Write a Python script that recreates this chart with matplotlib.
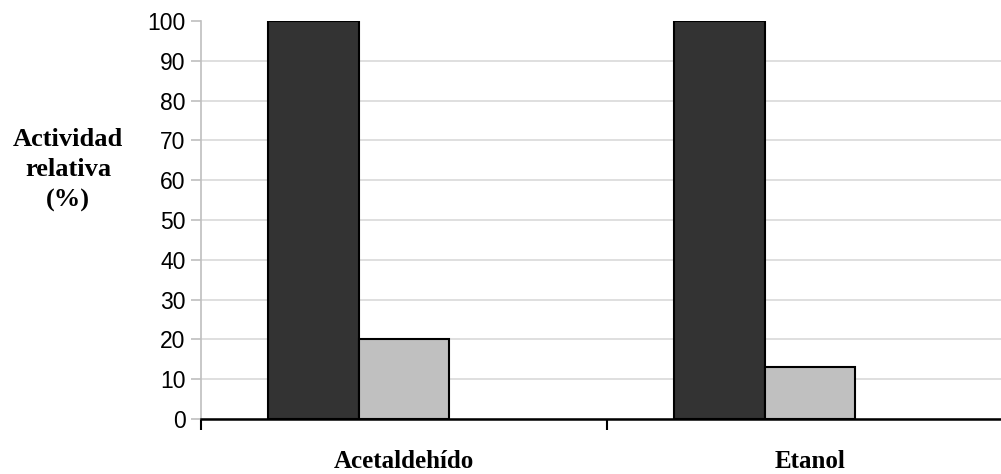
import numpy as np
import matplotlib
matplotlib.use("Agg")
import matplotlib.pyplot as plt

categorias = ["Acetaldehído", "Etanol"]
serie_1 = [100, 100]
serie_2 = [20, 13]
serie_3 = [0, 0]   # tercera serie sin actividad

plt.rcParams['font.family'] = ['Liberation Sans', 'DejaVu Sans']

fig = plt.figure(figsize=(10.01, 4.74), dpi=100)
ax = fig.add_axes([201 / 1001, 55 / 474, 812 / 1001, 398 / 474])

x = np.arange(len(categorias))
w = 0.223
ax.bar(x - w, serie_1, w, color="#333333", edgecolor="black", linewidth=1.5, zorder=3)
ax.bar(x, serie_2, w, color="#c0c0c0", edgecolor="black", linewidth=1.5, zorder=3)

ax.set_xlim(-0.5, 1.5)
ax.set_ylim(0, 100)
ax.set_yticks(range(0, 101, 10))
ax.tick_params(axis="y", labelsize=16.5, color="#bfbfbf", length=7, width=1.2, pad=4)
ax.yaxis.grid(True, color="#d9d9d9", linewidth=1.2, zorder=0)
ax.get_ygridlines()[-1].set_visible(False)

# marcas entre categorías y etiquetas centradas
ax.set_xticks([-0.5, 0.5, 1.5])
ax.set_xticklabels([])
ax.set_xticks(x, minor=True)
ax.set_xticklabels(categorias, minor=True, fontfamily="Liberation Serif",
                   fontweight="bold", fontsize=18)
ax.tick_params(axis="x", which="major", length=8, width=1.5, color="black")
ax.tick_params(axis="x", which="minor", length=0, pad=22)

for s in ["top", "right"]:
    ax.spines[s].set_visible(False)
ax.spines["left"].set_color("#bfbfbf")
ax.spines["left"].set_linewidth(1.2)
ax.spines["bottom"].set_color("black")
ax.spines["bottom"].set_linewidth(1.8)
ax.spines["bottom"].set_zorder(4)

fig.text(68 / 1001, 1 - 170 / 474, "Actividad\nrelativa\n(%)", ha="center", va="center",
         fontfamily="Liberation Serif", fontweight="bold", fontsize=19, linespacing=1.4)

fig.savefig("out.png", dpi=100)
